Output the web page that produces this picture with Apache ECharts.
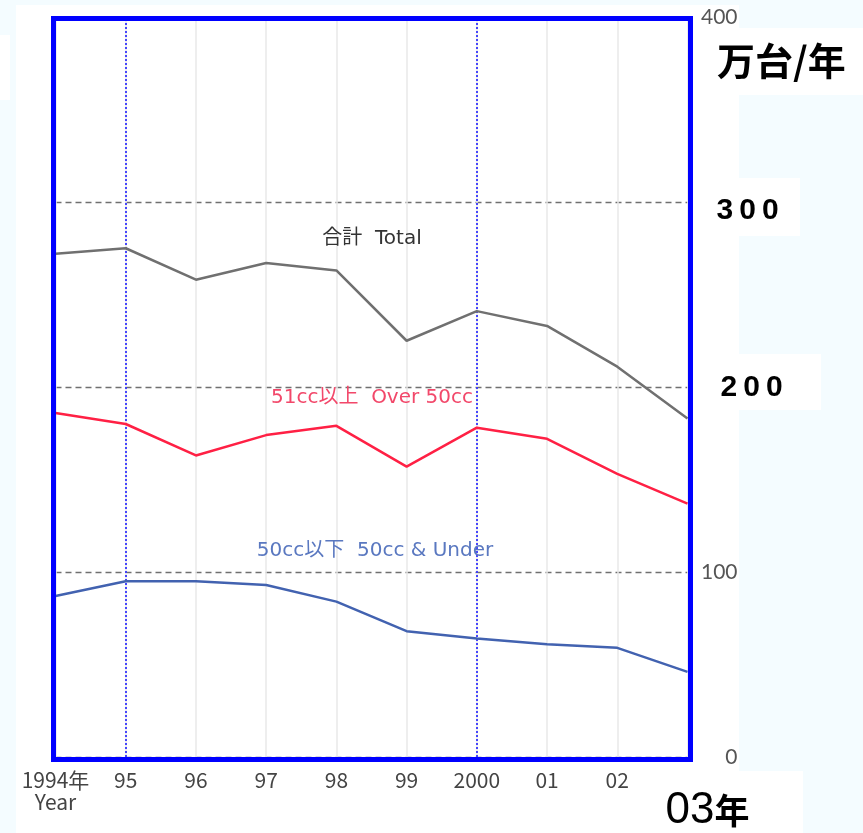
<!DOCTYPE html>
<html>
<head>
<meta charset="utf-8">
<script src="https://cdn.jsdelivr.net/npm/echarts@6/dist/echarts.min.js"></script>
<style>
  html, body { margin: 0; padding: 0; background: #f4fcff; }
  #chart { width: 863px; height: 833px; }
</style>
</head>
<body>
<div id="chart"></div>
<script>
  // 年次（カテゴリ）
  const years = ['1994', '95', '96', '97', '98', '99', '2000', '01', '02', '03'];
  // 合計 Total（万台/年）
  const total = [272, 275, 258, 267, 263, 225, 241, 233, 211, 183];
  // 51cc以上 Over 50cc
  const over50 = [186, 180, 163, 174, 179, 157, 178, 172, 153, 137];
  // 50cc以下 50cc & Under
  const under50 = [87, 95, 95, 93, 84, 68, 64, 61, 59, 46];
  // 縦の点線を引く年
  const markYears = ['95', '2000'];
  // 右軸の目盛り
  const smallTicks = [0, 100, 400];
  const bigTicks = [200, 300];

  const CJK = '"Noto Sans CJK JP", "Noto Sans", sans-serif';
  const WIDE = '"DejaVu Sans", "Noto Sans CJK JP", sans-serif';
  const GRID = { left: 55.5, top: 17, width: 632, height: 741 };

  const chart = echarts.init(document.getElementById('chart'));

  const lineSeries = (name, data, color, extra) => Object.assign({
    name: name,
    type: 'line',
    data: data,
    symbol: 'none',
    lineStyle: { color: color, width: 2.5 },
    z: 3,
  }, extra || {});

  const option = {
    backgroundColor: '#f4fcff',
    animation: false,
    title: {
      text: '万台/年',
      left: 712,
      top: 37,
      textStyle: { fontFamily: CJK, fontSize: 38, fontWeight: 'bold', color: '#000' },
    },
    grid: GRID,
    xAxis: {
      type: 'category',
      data: years,
      boundaryGap: false,
      axisLine: { show: false },
      axisTick: { show: false },
      splitLine: { show: true, lineStyle: { color: '#e9e9e9', width: 1.5 } },
      axisLabel: {
        interval: 0,
        margin: 12,
        formatter: function (v) {
          if (v === '1994') return '{n|1994年}\n{n|Year}';
          if (v === '03') return '{big|03}{nen|年}';
          return '{n|' + v + '}';
        },
        rich: {
          n: { fontFamily: CJK, fontSize: 21, lineHeight: 22, color: '#444' },
          big: {
            fontFamily: '"Liberation Sans", Arial, sans-serif', fontSize: 44, lineHeight: 44,
            color: '#000', padding: [40, 0, 0, 40],
          },
          nen: {
            fontFamily: CJK, fontSize: 35, lineHeight: 44, fontWeight: 'bold',
            color: '#000', padding: [40, 0, 0, 0],
          },
        },
      },
    },
    yAxis: [
      {
        type: 'value',
        position: 'right',
        min: 0,
        max: 400,
        interval: 100,
        axisLine: { show: false },
        axisTick: { show: false },
        splitLine: { show: true, lineStyle: { color: '#707070', type: [6, 4], width: 1.3 } },
        axisLabel: {
          margin: 50,
          align: 'right',
          color: '#555',
          fontFamily: 'Lato, "DejaVu Sans", sans-serif',
          fontSize: 21,
          formatter: (v) => (smallTicks.indexOf(v) >= 0 ? String(v) : ''),
        },
      },
      {
        type: 'value',
        position: 'right',
        min: 0,
        max: 400,
        interval: 100,
        axisLine: { show: false },
        axisTick: { show: false },
        splitLine: { show: false },
        axisLabel: {
          margin: 29,
          align: 'left',
          formatter: function (v) {
            if (bigTicks.indexOf(v) < 0) return '';
            const s = String(v).split('').join('\u2009');
            return v === 300 ? '{t3|' + s + '}' : '{t2|' + s + '}';
          },
          rich: {
            t3: {
              fontFamily: '"Liberation Sans", Arial, sans-serif',
              fontSize: 30, fontWeight: 'bold', color: '#000', padding: [18, 0, 0, 0],
            },
            t2: {
              fontFamily: '"Liberation Sans", Arial, sans-serif',
              fontSize: 30, fontWeight: 'bold', color: '#000', padding: [2, 0, 0, 4],
            },
          },
        },
      },
    ],
    graphic: [
      // 背景の白い部分
      { type: 'rect', z: -10, shape: { x: 16, y: 5, width: 723, height: 766 }, style: { fill: '#fff' } },
      { type: 'rect', z: -10, shape: { x: 16, y: 771, width: 787, height: 62 }, style: { fill: '#fff' } },
      { type: 'rect', z: -10, shape: { x: 739, y: 28, width: 124, height: 67 }, style: { fill: '#fff' } },
      { type: 'rect', z: -10, shape: { x: 739, y: 178, width: 61, height: 58 }, style: { fill: '#fff' } },
      { type: 'rect', z: -10, shape: { x: 739, y: 354, width: 82, height: 56 }, style: { fill: '#fff' } },
      { type: 'rect', z: -10, shape: { x: 0, y: 35, width: 10, height: 65 }, style: { fill: '#fff' } },
      // 青い枠
      {
        type: 'rect', z: 100,
        shape: { x: 53.5, y: 18.5, width: 637, height: 741 },
        style: { fill: 'none', stroke: '#0000ff', lineWidth: 5 },
      },
      // 系列名
      {
        type: 'text', z: 50, x: 372, y: 239,
        style: { text: '合計  Total', fill: '#333', font: '20px ' + WIDE, align: 'center', verticalAlign: 'middle' },
      },
      {
        type: 'text', z: 50, x: 372, y: 398,
        style: { text: '51cc以上  Over 50cc', fill: '#f2486a', font: '20px ' + WIDE, align: 'center', verticalAlign: 'middle' },
      },
      {
        type: 'text', z: 50, x: 375, y: 551,
        style: { text: '50cc以下  50cc & Under', fill: '#5a78c0', font: '20px ' + WIDE, align: 'center', verticalAlign: 'middle' },
      },
    ],
    series: [
      lineSeries('合計 Total', total, '#707070', {
        markLine: {
          silent: true,
          symbol: 'none',
          label: { show: false },
          lineStyle: { color: '#1010ff', type: [2, 2], width: 1.5 },
          data: markYears.map((y) => ({ xAxis: y })),
          z: 1,
        },
      }),
      lineSeries('51cc以上 Over 50cc', over50, '#ff2044'),
      lineSeries('50cc以下 50cc & Under', under50, '#4262b0'),
    ],
  };

  chart.setOption(option);
</script>
</body>
</html>
